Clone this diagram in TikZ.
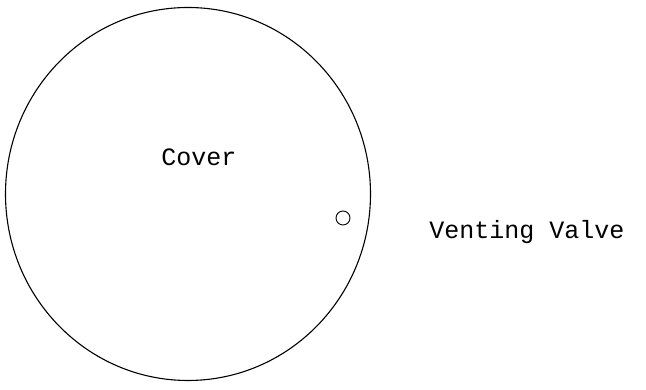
\documentclass[tikz,border=0pt]{standalone}
\usepackage{fontspec}
\setmonofont{Liberation Mono}
\usetikzlibrary{shapes.geometric}

\begin{document}
\begin{tikzpicture}[x=1pt, y=1pt, every node/.style={font=\ttfamily\fontsize{25}{30}\selectfont}]
    \useasboundingbox (0, 0) rectangle (646, 390);
    \node[draw, ellipse, line width=1.1pt, minimum width=365pt, minimum height=373pt,
      inner sep=0pt] (cover) at (188, 196) {};
    \node[draw, circle, line width=0.9pt, minimum size=14pt, inner sep=0pt] (valve) at (343, 172) {};
    \node (clab) at (199, 233) {Cover};
    \node (vlab) at (527, 158) {Venting Valve};
  \end{tikzpicture}
\end{document}
